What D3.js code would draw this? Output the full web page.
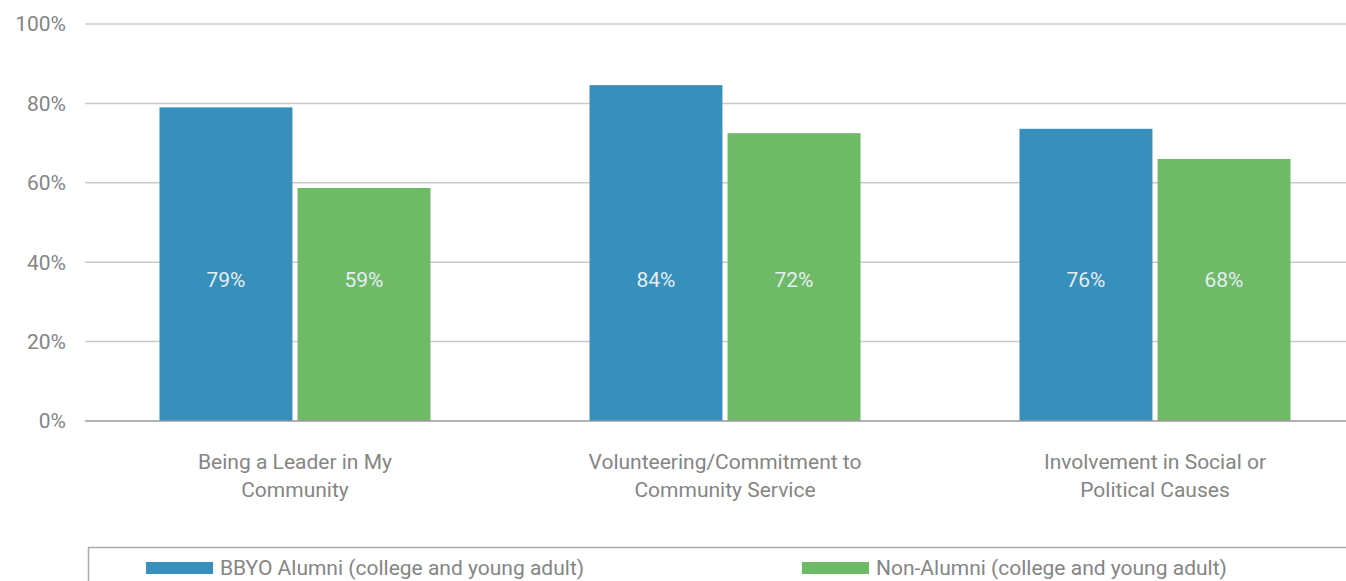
<!DOCTYPE html>
<html lang="en">
<head>
    <meta charset="UTF-8">
    <title>BBYO Alumni vs Non-Alumni</title>
    <script src="https://d3js.org/d3.v7.min.js"></script>
    <style>
        body { margin: 0; background: #fff; }
        text { font-family: "Liberation Sans Narrow", "Roboto", sans-serif; }
    </style>
</head>
<body>
    <script>
        const categories = [
            ["Being a Leader in My", "Community"],
            ["Volunteering/Commitment to", "Community Service"],
            ["Involvement in Social or", "Political Causes"]
        ];
        const seriesNames = ["BBYO Alumni (college and young adult)", "Non-Alumni (college and young adult)"];
        const colors = ["#378fbb", "#6fba67"];
        // bar heights as drawn, and the labels printed on them
        const alumniValues = [79, 84.6, 73.6];
        const nonAlumniValues = [58.7, 72.5, 66];
        const alumniLabels = ["79%", "84%", "76%"];
        const nonAlumniLabels = ["59%", "72%", "68%"];
        const yTicks = [0, 20, 40, 60, 80, 100];

        const width = 1346;
        const height = 581;

        const svg = d3.select("body").append("svg")
            .attr("width", width)
            .attr("height", height);

        const y = d3.scaleLinear().domain([0, 100]).range([421, 24]);
        const x0 = d3.scaleBand().domain(d3.range(categories.length)).range([80, 1370]);
        const groupW = 271;
        const x1 = d3.scaleBand().domain([0, 1])
            .range([(x0.bandwidth() - groupW) / 2, (x0.bandwidth() + groupW) / 2])
            .paddingInner(0.037);

        // gridlines + tick labels
        svg.append("g").selectAll("line")
            .data(yTicks.filter(d => d > 0))
            .join("line")
            .attr("x1", 85).attr("x2", width)
            .attr("y1", d => y(d)).attr("y2", d => y(d))
            .attr("stroke", "#c9c9c9").attr("stroke-width", 1.5);

        svg.append("g").selectAll("text")
            .data(yTicks)
            .join("text")
            .attr("x", 66).attr("y", d => y(d))
            .attr("dy", "0.35em")
            .attr("text-anchor", "end")
            .attr("fill", "#858585")
            .style("font-size", "21px")
            .text(d => d + "%");

        const series = [
            { values: alumniValues, labels: alumniLabels },
            { values: nonAlumniValues, labels: nonAlumniLabels }
        ];

        const groups = svg.append("g").selectAll("g")
            .data(categories)
            .join("g")
            .attr("transform", (d, i) => `translate(${x0(i)},0)`);

        groups.selectAll("rect")
            .data((d, i) => series.map((s, k) => ({ k, v: s.values[i], label: s.labels[i] })))
            .join("rect")
            .attr("x", d => x1(d.k))
            .attr("width", x1.bandwidth())
            .attr("y", d => y(d.v))
            .attr("height", d => y(0) - y(d.v))
            .attr("fill", d => colors[d.k]);

        groups.selectAll("text.val")
            .data((d, i) => series.map((s, k) => ({ k, label: s.labels[i] })))
            .join("text")
            .attr("class", "val")
            .attr("x", d => x1(d.k) + x1.bandwidth() / 2)
            .attr("y", y(35.5))
            .attr("dy", "0.35em")
            .attr("text-anchor", "middle")
            .attr("fill", "#e4eef3")
            .style("font-size", "21px")
            .text(d => d.label);

        // category labels
        groups.append("text")
            .attr("text-anchor", "middle")
            .attr("fill", "#858585")
            .style("font-size", "21px")
            .selectAll("tspan")
            .data(d => d)
            .join("tspan")
            .attr("x", x0.bandwidth() / 2)
            .attr("y", (d, i) => 469 + i * 28)
            .text(d => d);

        // baseline
        svg.append("line")
            .attr("x1", 85).attr("x2", width)
            .attr("y1", y(0)).attr("y2", y(0))
            .attr("stroke", "#9a9a9a").attr("stroke-width", 1.5);

        // legend box
        svg.append("path")
            .attr("d", `M88.5,${height}V547.5H${width}`)
            .attr("fill", "none")
            .attr("stroke", "#aaa").attr("stroke-width", 1.5);

        const legendX = [146, 802];
        const legend = svg.append("g").selectAll("g")
            .data(seriesNames)
            .join("g")
            .attr("transform", (d, i) => `translate(${legendX[i]},562)`);
        legend.append("rect")
            .attr("width", 67).attr("height", 12)
            .attr("fill", (d, i) => colors[i]);
        legend.append("text")
            .attr("x", 74).attr("y", 6)
            .attr("dy", "0.35em")
            .attr("fill", "#858585")
            .style("font-size", "21px")
            .text(d => d);
    </script>
</body>
</html>
